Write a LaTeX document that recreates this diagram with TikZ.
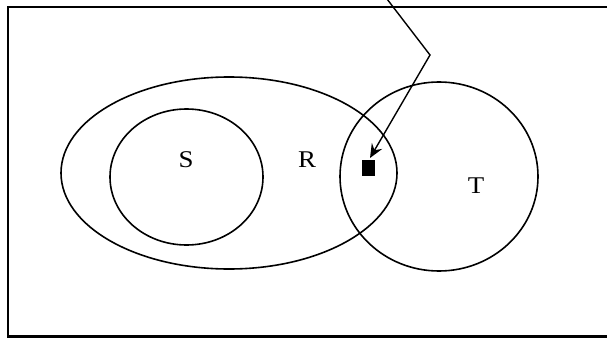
\documentclass[tikz,border=0pt]{standalone}
\usepackage{fontspec}
\setmainfont{Liberation Serif}
\usetikzlibrary{arrows.meta}
\begin{document}
\begin{tikzpicture}[x=1pt,y=-1pt,
  frame/.style={line width=2.2pt},
  setline/.style={line width=1.6pt},
  lbl/.style={font=\fontsize{24}{28}\selectfont, inner sep=0pt, xscale=1.12},
  leader/.style={line width=1.4pt, -{Stealth[length=14pt,width=12pt,inset=5pt]}}]
\useasboundingbox (0,0) rectangle (607,337);
\draw[frame] (607,7) -- (8,7) -- (8,336.5) -- (607,336.5);
\draw[setline] (229,173) ellipse [x radius=168, y radius=96];
\draw[setline] (186.5,177) ellipse [x radius=76.5, y radius=68];
\draw[setline] (439,176.5) ellipse [x radius=99, y radius=94.5];
\node[lbl] (S) at (186,160) {S};
\node[lbl] (R) at (307,160) {R};
\node[lbl] (T) at (476,186) {T};
\node[fill=black, minimum width=13pt, minimum height=16pt, inner sep=0pt] (sq) at (368.5,167.5) {};
\coordinate (start) at (387,-1);
\coordinate (bend) at (430,55);
\coordinate (tip) at (370,158);
\draw[leader] (start) -- (bend) -- (tip);
\end{tikzpicture}
\end{document}
